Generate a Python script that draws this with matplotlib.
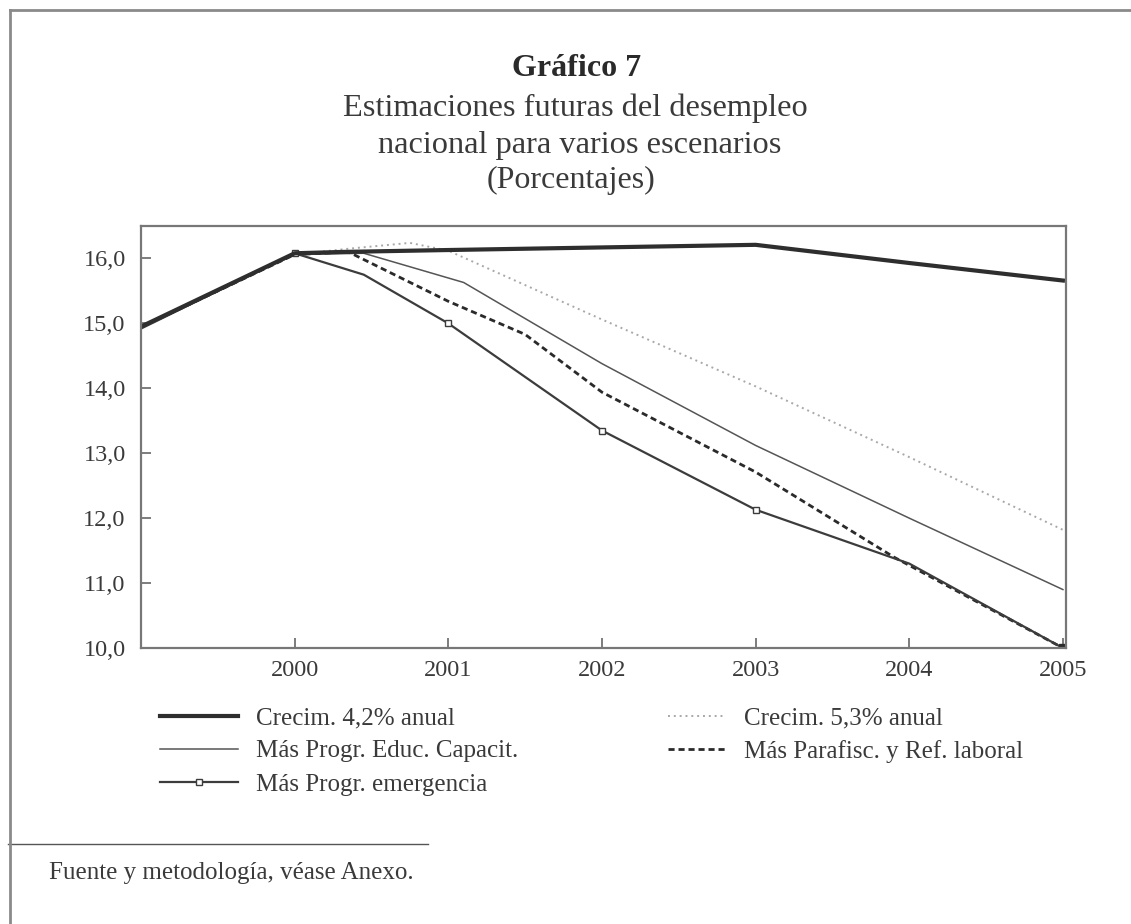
import matplotlib
matplotlib.use("Agg")
import matplotlib.pyplot as plt
from matplotlib.lines import Line2D

plt.rcParams['font.family'] = ['Liberation Serif', 'DejaVu Serif']

# ---- data ----
x_c42 = [1999, 2000, 2000.3, 2001, 2002, 2003, 2004, 2005]
y_c42 = [14.95, 16.08, 16.1, 16.13, 16.17, 16.21, 15.93, 15.66]

x_c53 = [1999, 2000, 2000.35, 2000.75, 2001, 2002, 2003, 2004, 2005]
y_c53 = [14.95, 16.06, 16.15, 16.24, 16.12, 15.06, 14.03, 12.94, 11.82]

x_edu = [1999, 2000, 2000.45, 2001.1, 2002, 2003, 2004, 2005]
y_edu = [14.93, 16.06, 16.08, 15.63, 14.38, 13.12, 12.0, 10.9]

x_par = [1999, 2000, 2000.35, 2001, 2001.5, 2002, 2003, 2003.9, 2005]
y_par = [14.94, 16.06, 16.1, 15.34, 14.83, 13.94, 12.71, 11.4, 10.0]

x_eme = [1999, 2000, 2000.45, 2001, 2002, 2003, 2004, 2005]
y_eme = [14.92, 16.08, 15.75, 15.0, 13.35, 12.13, 11.3, 10.0]
x_eme_mk = [2000, 2001, 2002, 2003]
y_eme_mk = [16.08, 15.0, 13.35, 12.13]

labels = ["Crecim. 4,2% anual", "Más Progr. Educ. Capacit.",
          "Más Progr. emergencia", "Crecim. 5,3% anual",
          "Más Parafisc. y Ref. laboral"]
xticks = [2000, 2001, 2002, 2003, 2004, 2005]
yticks = [10, 11, 12, 13, 14, 15, 16]

fig = plt.figure(figsize=(11.31, 9.24), dpi=100)
W, H = 1131, 924
ax = fig.add_axes([141 / W, 1 - 648 / H, (1066 - 141) / W, (648 - 226) / H])

tc = '#3a3a3a'
ax.plot(x_c53, y_c53, color='#a8a8a8', lw=1.4, ls=(0, (1, 2)))
ax.plot(x_edu, y_edu, color='#555555', lw=1.1)
ax.plot(x_par, y_par, color='#2a2a2a', lw=2.0, ls=(0, (2.2, 1.4)))
ax.plot(x_eme, y_eme, color='#3c3c3c', lw=1.6)
ax.plot(x_eme_mk, y_eme_mk, ls='none', marker='s', ms=5, mfc='white', mec='#3c3c3c', mew=1.0)
ax.plot([x_eme[-1]], [y_eme[-1]], ls='none', marker='s', ms=6, color='#2a2a2a')
ax.plot(x_c42, y_c42, color='#2e2e2e', lw=3.0)

ax.set_xlim(1999, 2005.02)
ax.set_ylim(10, 16.5)
ax.set_xticks(xticks)
ax.set_xticklabels([str(v) for v in xticks])
ax.set_yticks(yticks)
ax.set_yticklabels([f"{v:.1f}".replace('.', ',') for v in yticks])
ax.tick_params(direction='in', length=7, width=1.2, color='#666666',
               labelsize=17.5, labelcolor=tc, pad=9)
ax.tick_params(axis='y', pad=11)
for s in ax.spines.values():
    s.set_color('#777777')
    s.set_linewidth(1.6)

# legends
h_c42 = Line2D([], [], color='#2e2e2e', lw=3.0)
h_edu = Line2D([], [], color='#555555', lw=1.1)
h_eme = Line2D([], [], color='#3c3c3c', lw=1.6, marker='s', ms=5, mfc='white',
               mec='#3c3c3c')
h_c53 = Line2D([], [], color='#a8a8a8', lw=1.4, ls=(0, (1, 2)))
h_par = Line2D([], [], color='#2a2a2a', lw=2.0, ls=(0, (2.2, 1.4)))

leg1 = fig.legend([h_c42, h_edu, h_eme], labels[:3], loc='upper left',
                  bbox_to_anchor=(160 / W, 1 - 707 / H), frameon=False,
                  fontsize=18, handlelength=3.1, handletextpad=0.75,
                  labelspacing=0.42, borderpad=0, borderaxespad=0,
                  labelcolor=tc, numpoints=1)
leg2 = fig.legend([h_c53, h_par], labels[3:], loc='upper left',
                  bbox_to_anchor=(668 / W, 1 - 707 / H), frameon=False,
                  fontsize=18, handlelength=2.3, handletextpad=0.72,
                  labelspacing=0.42, borderpad=0, borderaxespad=0,
                  labelcolor=tc)

# titles
fig.text(577 / W, 1 - 69 / H, "Gráfico 7", ha='center', va='center',
         fontsize=23, fontweight='bold', color='#2a2a2a')
fig.text(575 / W, 1 - 108 / H, "Estimaciones futuras del desempleo",
         ha='center', va='center', fontsize=23.3, color=tc)
fig.text(580 / W, 1 - 145 / H, "nacional para varios escenarios",
         ha='center', va='center', fontsize=23.3, color=tc)
fig.text(571 / W, 1 - 180 / H, "(Porcentajes)", ha='center', va='center',
         fontsize=23, color=tc)

# footer
fig.text(49 / W, 1 - 873 / H, "Fuente y metodología, véase Anexo.",
         ha='left', va='center', fontsize=18, color=tc)
fig.add_artist(Line2D([8 / W, 428 / W], [1 - 844 / H, 1 - 844 / H],
                      color='#555555', lw=1.0))
# page frame
fig.add_artist(Line2D([10 / W, 1.0], [1 - 10 / H, 1 - 10 / H], color='#8a8a8a', lw=2.0))
fig.add_artist(Line2D([10 / W, 10 / W], [0, 1 - 10 / H], color='#8a8a8a', lw=2.0))

fig.savefig("out.png", dpi=100)
